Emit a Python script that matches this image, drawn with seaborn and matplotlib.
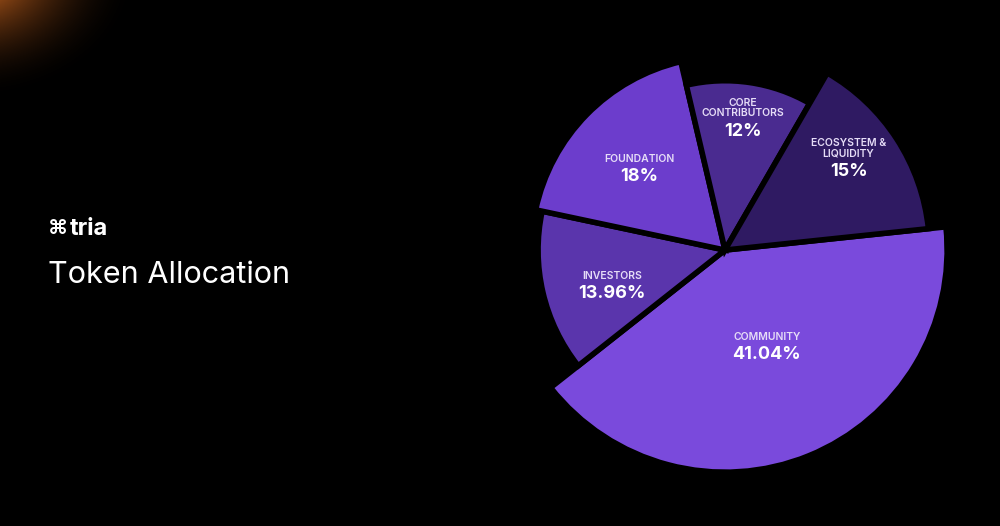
import numpy as np
import matplotlib.pyplot as plt
import seaborn as sns

categories = ["COMMUNITY", "INVESTORS", "FOUNDATION", "CORE\nCONTRIBUTORS", "ECOSYSTEM &\nLIQUIDITY"]
shares = [41.04, 13.96, 18, 12, 15]
pct_labels = ["41.04%", "13.96%", "18%", "12%", "15%"]
colors = ["#7a4adc", "#5a35ac", "#6c3dcc", "#4a2b90", "#2f1a62"]
radii = [1.01, 0.85, 0.88, 0.77, 0.93]
label_r = [0.5, 0.62, 0.62, 0.72, 0.72]
label_dy = [0.0, -0.07, -0.04, 0.0, 0.0]

sns.set_theme(style="dark")
plt.rcParams["font.family"] = ["Inter", "DejaVu Sans"]

fig = plt.figure(figsize=(10, 5.26), dpi=100, facecolor="black")

# faint orange glow top-left
bg = fig.add_axes([0, 0, 1, 1])
bg.set_axis_off()
yy, xx = np.mgrid[0:526, 0:1000]
d = np.hypot(xx + 30, (yy + 30) * 1.3)
glow = np.clip(1 - d / 170, 0, 1) ** 2
img = np.zeros((526, 1000, 3))
img[..., 0] = glow * 1.0
img[..., 1] = glow * 0.5
img[..., 2] = glow * 0.15
bg.imshow(img, extent=[0, 1000, 526, 0], aspect="auto")
bg.set_xlim(0, 1000)
bg.set_ylim(526, 0)

bg.text(48, 228, "⌘", color="white", fontsize=15, va="center", ha="left", fontweight="bold")
bg.text(70, 229, "tria", color="white", fontsize=17, va="center", ha="left", fontweight="bold")
bg.text(48, 275, "Token Allocation", color="white", fontsize=22, va="center", ha="left")

ax = fig.add_axes([0.494, 0.0856, 0.462, 0.878])
ax.set_facecolor("none")
wedges, _ = ax.pie(shares, colors=colors, startangle=6, counterclock=False,
                   wedgeprops=dict(edgecolor="black", linewidth=4))
for w, r in zip(wedges, radii):
    w.set_radius(r)

start = 6
for name, pct, s, r, lr, dy in zip(categories, pct_labels, shares, radii, label_r, label_dy):
    mid = np.deg2rad(start - s * 3.6 / 2)
    start -= s * 3.6
    x, y = np.cos(mid) * lr * r, np.sin(mid) * lr * r + dy
    ax.text(x, y + 0.05, name, color="#e6ddf7", fontsize=7.5, ha="center", va="bottom",
            fontweight="semibold", linespacing=1.1)
    ax.text(x, y + 0.03, pct, color="white", fontsize=13, ha="center", va="top", fontweight="bold")

ax.set_xlim(-1.05, 1.05)
ax.set_ylim(-1.05, 1.05)
ax.set_aspect("equal")
ax.set_axis_off()

fig.savefig("out.png", facecolor="black")
